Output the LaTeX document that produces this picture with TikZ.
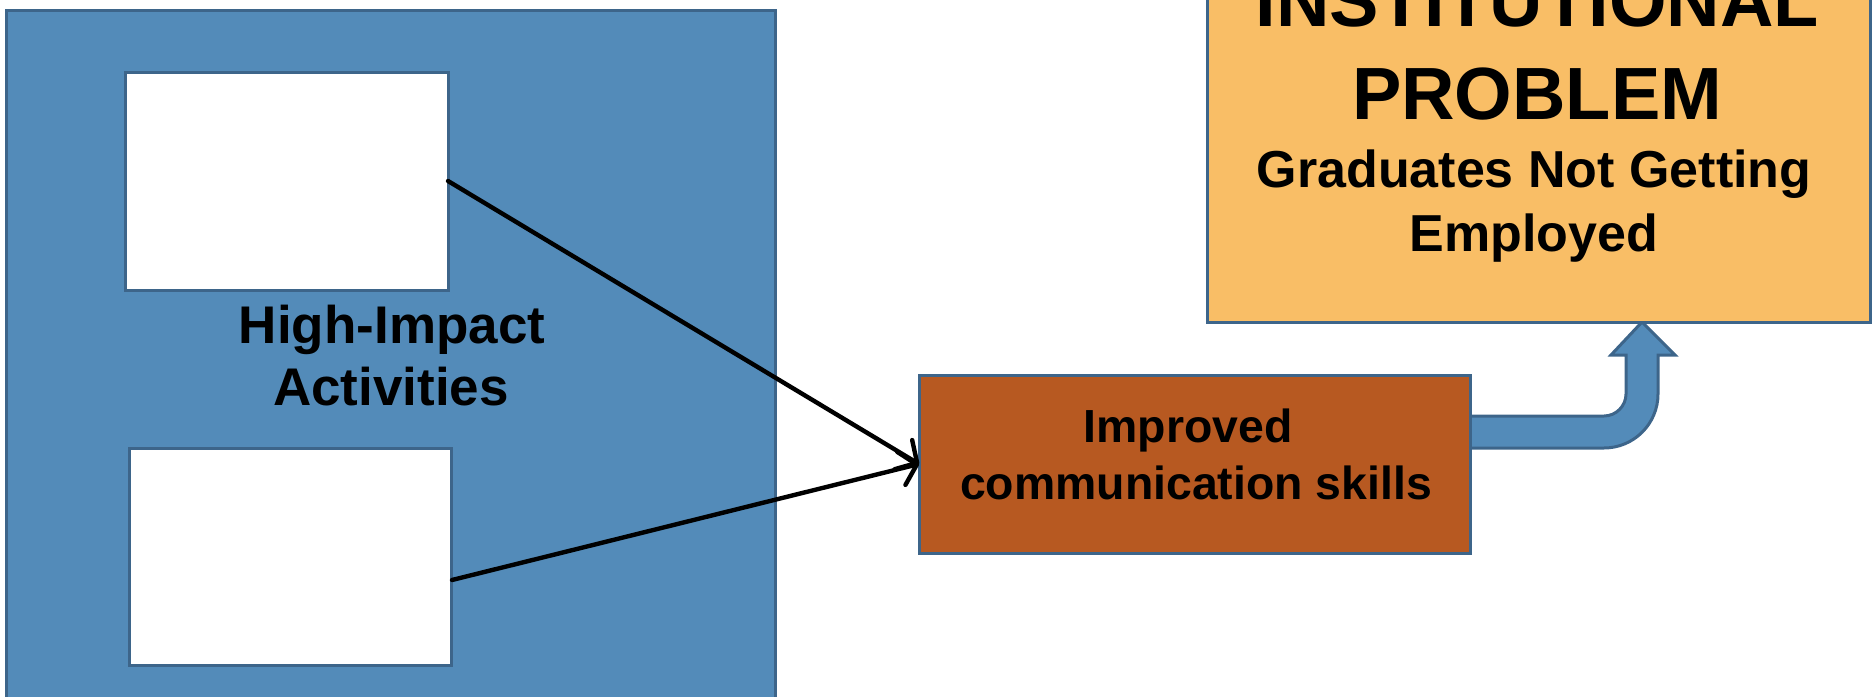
\documentclass[tikz,border=0pt]{standalone}
\usepackage{fontspec}
\setmainfont{Liberation Sans}
\usetikzlibrary{arrows.meta}
\definecolor{bfill}{RGB}{83,139,185}
\definecolor{bline}{RGB}{61,101,138}
\definecolor{ofill}{RGB}{249,190,102}
\definecolor{rfill}{RGB}{183,89,33}
\begin{document}
\begin{tikzpicture}[x=0.5pt,y=-0.5pt,
  box/.style={draw=bline,line width=1.5pt,inner sep=0pt,outer sep=0pt},
  lbl/.style={font=\bfseries,anchor=base,inner sep=0pt},
  fA/.style={font=\fontsize{26.5}{31}\selectfont\bfseries},
  fB/.style={font=\fontsize{23.2}{27}\selectfont\bfseries},
  fC/.style={font=\fontsize{37}{44}\selectfont\bfseries},
  fD/.style={font=\fontsize{26}{31}\selectfont\bfseries},
  conn/.style={line width=2.2pt,line cap=round,-{Straight Barb[length=8pt,width=17pt,round]}}]
\useasboundingbox (0,0) rectangle (1872,696);
\clip (0,0) rectangle (1872,696);
% big blue panel
\node[box,fill=bfill,minimum width=384.5pt,minimum height=350pt] (big) at (390.5,360) {};
\node[box,fill=white,minimum width=161.5pt,minimum height=109pt] (tw) at (286.5,181) {};
\node[box,fill=white,minimum width=161pt,minimum height=108.5pt] (bw) at (290,556.5) {};
\node[lbl,fA] (hi1) at (392,343) {High-Impact};
\node[lbl,fA] (hi2) at (391,405) {Activities};
% bent block arrow
\draw[draw=bline,fill=bfill,line width=1.5pt,line join=miter]
  (1465,416) -- (1604,416) .. controls (1616.2,416) and (1626,405.8) .. (1626,394)
  -- (1626,355) -- (1611,355) -- (1642,322) -- (1675,355) -- (1658,355) -- (1658,394)
  .. controls (1658,423.8) and (1633.8,448) .. (1604,448) -- (1465,448) -- cycle;
% outcome box
\node[box,fill=rfill,minimum width=275.5pt,minimum height=89pt] (os) at (1194.5,464) {};
\node[lbl,fB] (im1) at (1188,442) {Improved};
\node[lbl,fB] (im2) at (1196,499) {communication skills};
% institutional problem box
\node[box,fill=ofill,minimum width=331.5pt,minimum height=211pt] (ip) at (1538.5,111) {};
\node[lbl,fC] (ip1) at (1537,26) {INSTITUTIONAL};
\node[lbl,fC] (ip2) at (1537,119) {PROBLEM};
\node[lbl,fD] (ip3) at (1534,187) {Graduates Not Getting};
\node[lbl,fD] (ip4) at (1534,251) {Employed};
% connectors
\coordinate (bwout) at (452,580);
\draw[conn] (tw.east) -- (os.west);
\draw[conn] (bwout) -- (os.west);
\end{tikzpicture}
\end{document}
